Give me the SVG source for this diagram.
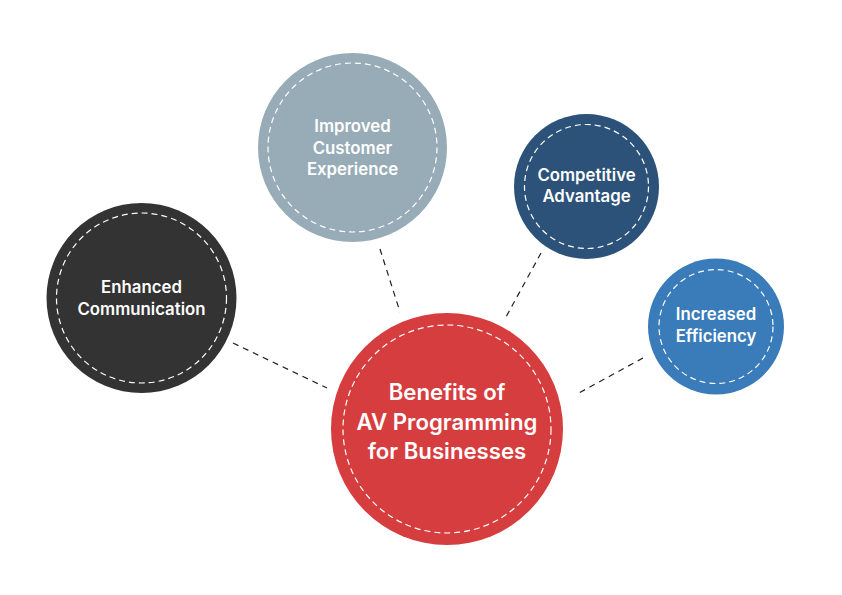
<svg xmlns="http://www.w3.org/2000/svg" width="842" height="595" viewBox="0 0 842 595">
<style>
.ring{fill:none;stroke:#ffffff;stroke-width:1.2;stroke-dasharray:6 4}
.lbl{font-family:Inter,"Noto Sans",sans-serif;font-weight:600;fill:#ffffff;text-anchor:middle}
.s{font-size:16.8px}
.l{font-size:22.2px}
.conn line{stroke:#222222;stroke-width:1.2;stroke-dasharray:6 5}
</style>
<rect width="842" height="595" fill="#ffffff"/>
<g id="connectors" class="conn">
<line x1="233" y1="343" x2="327" y2="388"/>
<line x1="380" y1="249" x2="400" y2="312"/>
<line x1="541" y1="253" x2="506" y2="317"/>
<line x1="643" y1="358" x2="577" y2="394"/>
</g>
<g id="enhanced-communication">
<circle cx="141.5" cy="298" r="95" fill="#333333"/>
<circle class="ring" cx="141.5" cy="298" r="85"/>
<text class="lbl s" x="141.5" y="293">Enhanced</text>
<text class="lbl s" x="141.5" y="315">Communication</text>
</g>
<g id="improved-customer-experience">
<circle cx="352.5" cy="147.5" r="94.5" fill="#97ACB6"/>
<circle class="ring" cx="352.5" cy="147.5" r="84.5"/>
<text class="lbl s" x="352.5" y="132">Improved</text>
<text class="lbl s" x="352.5" y="153.5">Customer</text>
<text class="lbl s" x="352.5" y="175">Experience</text>
</g>
<g id="competitive-advantage">
<circle cx="586.5" cy="186.5" r="72.5" fill="#2C5279"/>
<circle class="ring" cx="586.5" cy="186.5" r="62"/>
<text class="lbl s" x="586.5" y="181">Competitive</text>
<text class="lbl s" x="586.5" y="202">Advantage</text>
</g>
<g id="increased-efficiency">
<circle cx="716" cy="326.5" r="68" fill="#3A7BB9"/>
<circle class="ring" cx="716" cy="326.5" r="57"/>
<text class="lbl s" x="716" y="320">Increased</text>
<text class="lbl s" x="716" y="342">Efficiency</text>
</g>
<g id="benefits">
<circle cx="447" cy="429" r="116" fill="#D63D3F"/>
<circle class="ring" cx="447" cy="429" r="104"/>
<text class="lbl l" x="447" y="400">Benefits of</text>
<text class="lbl l" x="447" y="429.5">AV Programming</text>
<text class="lbl l" x="447" y="459">for Businesses</text>
</g>
</svg>
